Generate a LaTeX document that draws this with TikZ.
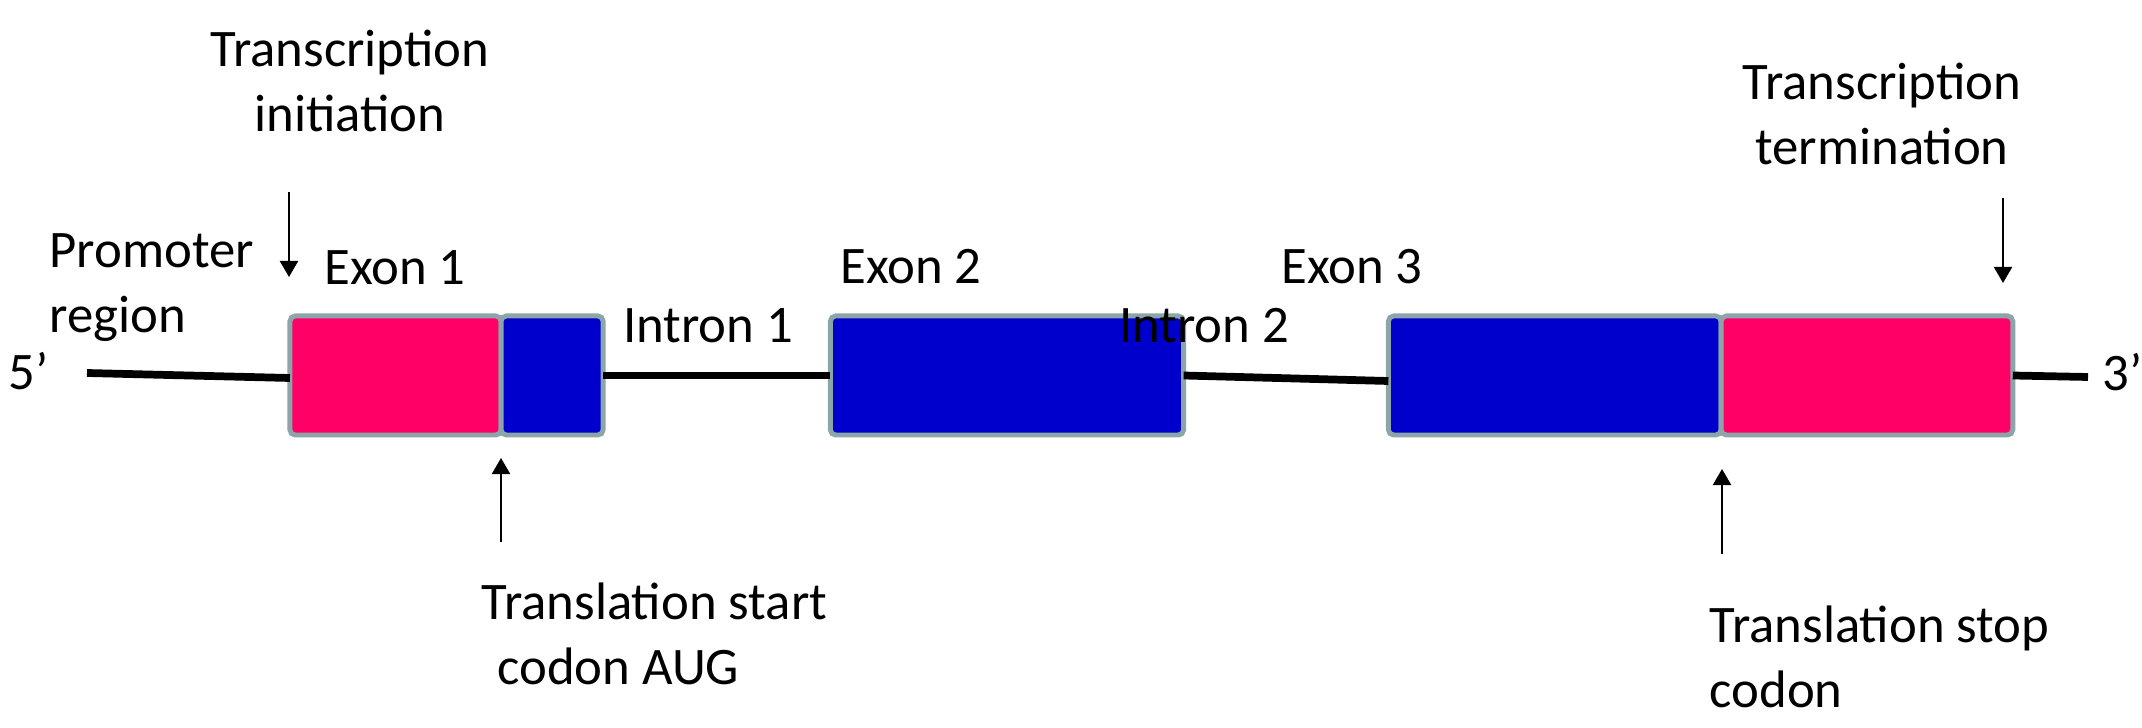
\documentclass[tikz,border=0pt]{standalone}
\usepackage{fontspec}
\setmainfont{Carlito}
\usepackage{xcolor}
\definecolor{exonpink}{HTML}{FF0066}
\definecolor{exonblue}{HTML}{0000CC}
\definecolor{rimgray}{HTML}{8CA5A8}
\usepackage{tikz}
\usetikzlibrary{arrows.meta,positioning}

\begin{document}
\begin{tikzpicture}[
  x=0.01cm,y=-0.01cm,
  every node/.style={font=\fontsize{15}{18.6}\selectfont,inner sep=0pt},
  seg/.style={draw=rimgray,line width=1.4pt,rounded corners=1.5pt,inner sep=0pt,outer sep=0pt,minimum height=1.19cm},
  utr/.style={seg,fill=exonpink},
  cds/.style={seg,fill=exonblue},
  dna/.style={line width=2.2pt},
  arrow/.style={-{Triangle[length=1.6mm,width=1.8mm]},line width=0.6pt}
]
\useasboundingbox (0,0) rectangle (2142,728);
% exons
\node[utr,minimum width=2.11cm] (ex1a) at (395.5,375.5) {};
\node[cds,minimum width=1.02cm,right=0pt of ex1a] (ex1b) {};
\node[cds,minimum width=3.53cm] (ex2) at (1007,375.5) {};
\node[cds,minimum width=3.325cm] (ex3a) at (1554.75,375.5) {};
\node[utr,minimum width=2.915cm,right=0pt of ex3a] (ex3b) {};
% strand
\coordinate (end5) at (87,373);
\coordinate (end3) at (2088,377);
\draw[dna] (end5) -- ([yshift=-0.025cm]ex1a.west);
\draw[dna] (ex1b.east) -- (ex2.west);
\draw[dna] (ex2.east) -- ([yshift=-0.055cm]ex3a.west);
\draw[dna] (ex3b.east) -- (end3);
% labels (base = last line)
\node[anchor=base,align=center] (tinit) at (350,132) {Transcription\\initiation};
\node[anchor=base west,align=left] (prom) at (49,333) {Promoter\\region};
\node[anchor=base west] (five) at (8,390) {5’};
\node[anchor=base] (lex1) at (395,285) {Exon 1};
\node[anchor=base] (lin1) at (708,343) {Intron 1};
\node[anchor=base] (lex2) at (911,284) {Exon 2};
\node[anchor=base] (lin2) at (1204,343) {Intron 2};
\node[anchor=base] (lex3) at (1352,284) {Exon 3};
\node[anchor=base,align=center] (tterm) at (1882,165) {Transcription\\termination};
\node[anchor=base west] (three) at (2102,391) {3’};
\node[anchor=base west,align=left] (tstart) at (481,685) {Translation start\\\hspace*{0.3em}codon AUG};
\node[anchor=base west,align=left] (tstop) at (1709,708) {Translation stop\\codon};
% pointers
\coordinate (initTail) at (289,192);
\coordinate (initTip) at (289,277);
\coordinate (termTail) at (2003,198);
\coordinate (termTip) at (2003,283);
\coordinate (startTail) at (501,542);
\coordinate (startTip) at (501,458);
\coordinate (stopTail) at (1722,554);
\coordinate (stopTip) at (1722,469);
\draw[arrow] (initTail) -- (initTip);
\draw[arrow] (termTail) -- (termTip);
\draw[arrow] (startTail) -- (startTip);
\draw[arrow] (stopTail) -- (stopTip);
\end{tikzpicture}
\end{document}
